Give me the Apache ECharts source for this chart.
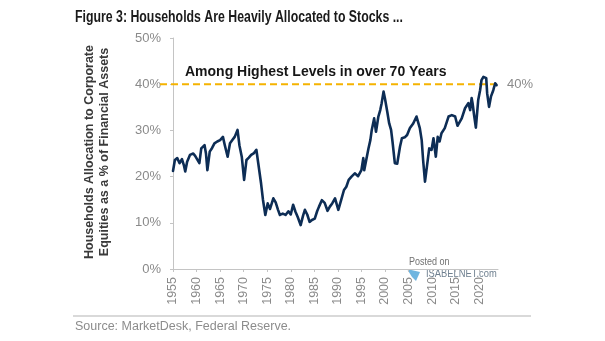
<!DOCTYPE html>
<html>
<head>
<meta charset="utf-8">
<script src="https://cdn.jsdelivr.net/npm/echarts@6/dist/echarts.min.js"></script>
<style>html,body{margin:0;padding:0;background:#fff;}#c{width:605px;height:341px;}</style>
</head>
<body>
<div id="c"></div>
<script>
// ---- data ----
const years = [1955.0,1955.4,1955.9,1956.4,1956.9,1957.3,1957.6,1958.0,1958.6,1959.3,1959.7,1960.2,1960.6,1961.0,1961.7,1962.0,1962.3,1962.8,1963.3,1963.8,1964.4,1965.0,1965.6,1966.0,1966.6,1967.1,1967.6,1968.1,1968.7,1969.1,1969.6,1970.1,1970.6,1971.1,1971.6,1972.2,1972.7,1973.1,1973.7,1974.1,1974.6,1975.1,1975.6,1976.3,1976.8,1977.3,1977.7,1978.3,1978.9,1979.5,1980.0,1980.5,1981.0,1981.5,1982.1,1982.6,1983.0,1983.5,1984.0,1984.5,1985.1,1985.6,1986.0,1986.6,1987.2,1987.8,1988.3,1988.8,1989.4,1989.8,1990.1,1990.8,1991.3,1991.8,1992.3,1992.9,1993.6,1994.3,1995.0,1995.4,1995.6,1996.0,1996.5,1996.9,1997.2,1997.7,1998.1,1998.6,1999.0,1999.3,1999.7,2000.0,2000.5,2000.9,2001.3,2001.6,2002.1,2002.6,2003.2,2003.6,2004.2,2004.7,2005.3,2006.0,2006.7,2007.1,2007.4,2007.8,2008.1,2008.5,2008.9,2009.4,2009.9,2010.3,2010.8,2011.2,2011.6,2012.0,2012.7,2013.5,2014.2,2014.9,2015.4,2016.3,2017.0,2017.7,2018.1,2018.4,2018.6,2018.9,2019.3,2019.8,2020.2,2020.5,2020.9,2021.5,2021.7,2022.1,2022.5,2023.0,2023.4,2023.7];
const allocation = [21.2,23.6,24.0,22.9,23.8,22.5,21.1,23.2,24.7,25.0,24.5,23.6,22.9,26.1,26.8,25.0,21.4,25.4,26.2,27.2,27.6,27.9,28.6,26.8,24.3,27.2,27.9,28.6,30.1,26.8,24.3,19.3,23.6,24.1,24.7,25.1,25.8,22.9,18.5,15.0,11.7,14.2,13.0,15.3,14.4,12.8,11.7,12.0,11.7,12.5,11.8,13.9,12.4,11.2,9.5,11.5,12.8,11.8,10.2,10.6,10.9,12.5,13.5,14.9,14.3,12.6,13.5,14.2,15.3,14.9,12.8,15.3,17.1,17.8,19.3,20.0,20.7,20.1,21.4,24.0,21.4,23.5,26.1,27.9,30.1,32.6,29.7,33.0,34.4,35.9,38.4,36.9,34.0,31.5,30.1,27.6,22.9,22.8,26.5,28.3,28.5,29.0,30.5,31.5,33.0,32.6,30.5,27.9,23.6,18.9,22.1,26.1,25.8,28.3,24.3,28.6,27.6,29.4,30.5,33.0,33.3,33.0,31.0,32.6,34.8,35.9,34.4,37.0,35.9,33.5,30.6,36.6,38.7,40.9,41.6,41.3,38.0,35.1,37.3,38.7,40.2,39.8];
const refLevel = 40;
const yTicks = [0, 10, 20, 30, 40, 50];
const xTickStart = 1955, xTickStep = 5, xEnd = 2024;

const titleText = 'Figure 3: Households Are Heavily Allocated to Stocks ...';
const yNameLines = ['Households Allocation to Corporate', 'Equities as a % of Financial Assets'];
const annotation = 'Among Highest Levels in over 70 Years';
const sourceText = 'Source: MarketDesk, Federal Reserve.';

const chart = echarts.init(document.getElementById('c'), null, {renderer: 'canvas'});
const grey = '#8a8a8a';
const axisGrey = '#c4c4c4';
const base = 'Liberation Sans, Arial, Helvetica, sans-serif';

chart.setOption({
  animation: false,
  backgroundColor: '#ffffff',
  grid: [
    {left: 173, right: 107, top: 38, bottom: 72},
    {left: 160, right: 107, top: 38, bottom: 72}
  ],
  xAxis: [
    {
      type: 'value', gridIndex: 0, min: xTickStart, max: xEnd, interval: xTickStep,
      axisLine: {show: true, lineStyle: {color: axisGrey, width: 1}},
      axisTick: {show: true, length: 3, lineStyle: {color: axisGrey}},
      splitLine: {show: false},
      axisLabel: {
        rotate: 90, margin: 8, color: grey, fontSize: 12.5, fontFamily: base,
        showMaxLabel: false,
        formatter: v => (v % xTickStep === 0 ? String(v) : '')
      }
    },
    {type: 'value', gridIndex: 1, min: 0, max: 1, show: false}
  ],
  yAxis: [
    {
      type: 'value', gridIndex: 0, min: yTicks[0], max: yTicks[yTicks.length - 1], interval: 10,
      axisLine: {show: true, lineStyle: {color: axisGrey, width: 1}},
      axisTick: {show: true, length: 3, lineStyle: {color: axisGrey}},
      splitLine: {show: false},
      axisLabel: {margin: 12, color: grey, fontSize: 13, fontFamily: base, formatter: '{value}%'}
    },
    {type: 'value', gridIndex: 1, min: yTicks[0], max: yTicks[yTicks.length - 1], show: false}
  ],
  series: [
    {
      type: 'line', xAxisIndex: 1, yAxisIndex: 1, z: 1,
      data: [[0, refLevel], [1, refLevel]],
      symbol: 'none',
      lineStyle: {color: '#f5b301', width: 2, type: [7, 4]},
      endLabel: {show: true, formatter: refLevel + '%', color: grey, fontSize: 13, fontFamily: base, distance: 9}
    },
    {
      type: 'line', xAxisIndex: 0, yAxisIndex: 0, z: 3,
      data: years.map((y, i) => [y, allocation[i]]),
      symbol: 'none', smooth: false,
      lineStyle: {color: '#0d2d55', width: 2.6, join: 'round', cap: 'round'}
    }
  ],
  graphic: [
    {type: 'text', x: 75, y: 18, scaleX: 0.77, style: {text: titleText, fill: '#1a1a1a', textVerticalAlign: 'middle', font: 'bold 16px ' + base}},
    {type: 'text', x: 90, y: 152, rotation: Math.PI / 2, style: {text: yNameLines[0], fill: '#3a3a3a', textAlign: 'center', textVerticalAlign: 'middle', font: 'bold 12.5px ' + base}},
    {type: 'text', x: 105, y: 152, rotation: Math.PI / 2, style: {text: yNameLines[1], fill: '#3a3a3a', textAlign: 'center', textVerticalAlign: 'middle', font: 'bold 12.5px ' + base}},
    {type: 'text', x: 185, y: 72, style: {text: annotation, fill: '#161616', textVerticalAlign: 'middle', font: 'bold 14px ' + base}},
    {type: 'text', x: 409, y: 262, scaleX: 0.9, style: {text: 'Posted on', fill: '#707070', textVerticalAlign: 'middle', font: '10px ' + base}},
    {type: 'text', x: 426, y: 274, scaleX: 0.85, style: {text: 'ISABELNET.com', fill: '#6f8090', textVerticalAlign: 'middle', font: '11px ' + base}},
    {type: 'polygon', shape: {points: [[407, 269], [420, 272], [416, 281], [412, 277]]}, style: {fill: '#4aa3d8', opacity: 0.8}},
    {type: 'line', shape: {x1: 73, y1: 316, x2: 531, y2: 316}, style: {stroke: '#b3b3b3', lineWidth: 1}},
    {type: 'text', x: 75, y: 327, style: {text: sourceText, fill: '#8c8c8c', textVerticalAlign: 'middle', font: '12.5px ' + base}}
  ]
});
</script>
</body>
</html>
